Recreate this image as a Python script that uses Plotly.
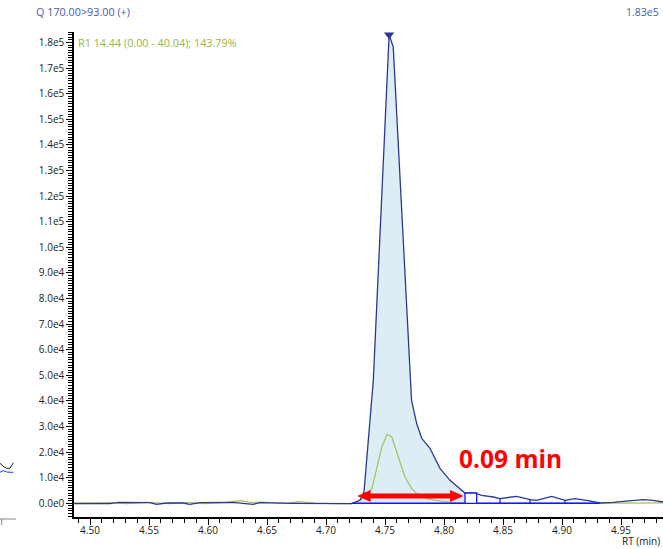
import numpy as np
import plotly.graph_objects as go

# ---- Chromatogram data: retention time (min) vs. intensity ----
# Quantifier transition Q 170.00 > 93.00 (+)
rt_quant = [4.4865, 4.5169, 4.5240, 4.5508, 4.5565, 4.5650, 4.5788, 4.5847, 4.5932,
            4.6212, 4.6381, 4.6441, 4.6720, 4.7218, 4.7288, 4.7322, 4.7401, 4.7535,
            4.7570, 4.7725, 4.7768, 4.7811, 4.7881, 4.7966, 4.8051, 4.8136, 4.8178,
            4.8277, 4.8319, 4.8418, 4.8475, 4.8616, 4.8729, 4.8785, 4.8913, 4.9025,
            4.9110, 4.9209, 4.9322, 4.9432, 4.9686, 4.9771, 4.9856]
int_quant = [-100, -100, 390, 270, -390, 117, 117, -390, 270,
             390, -390, 270, 0, -117, 1172, 4414, 48047, 183000,
             178200, 40230, 31250, 25390, 21480, 13670, 8980, 5740, 4020,
             3790, 3125, 2460, 1840, 2730, 1450, 1170, 2730, 1170,
             1840, 1170, 120, 390, 1450, 1170, 500]

# Qualifier (reference ion) trace
rt_qual = [4.4865, 4.5169, 4.5310, 4.5480, 4.5678, 4.5820, 4.5958, 4.6158, 4.6271,
           4.6370, 4.6441, 4.6553, 4.6667, 4.6765, 4.6836, 4.6907, 4.7050, 4.7218,
           4.7316, 4.7390, 4.7472, 4.7519, 4.7557, 4.7613, 4.7669, 4.7726, 4.7768,
           4.7853, 4.7966, 4.8100, 4.8300, 4.8600, 4.9000, 4.9300, 4.9550, 4.9856]
int_qual = [200, 270, -100, 390, -100, 390, -100, 390, 1050,
            270, 500, 117, 0, 660, 270, 117, -100, -100,
            1840, 5860, 21880, 26950, 25900, 18090, 10270, 5740, 3790,
            1840, 900, 200, 0, 100, 0, 200, 100, 150]

# Integration window of the main peak and split markers
peak_start, peak_end = 4.7218, 4.8178
split_box = (4.8178, 4.8277)
split_lines = [4.8475, 4.8729, 4.9025]
baseline_end = 4.9322
apex_rt, apex_int = 4.7535, 183000

# Peak width annotation
width_start = 4.7265
width_min = 0.09

# Axis ticks
y_tickvals = [i * 1e4 for i in range(19)]
y_ticktext = ["0.0e0"] + [f"{i}.0e4" for i in range(1, 10)] + \
             ["1.0e5", "1.1e5", "1.2e5", "1.3e5", "1.4e5", "1.5e5", "1.6e5", "1.7e5", "1.8e5"]
x_tickvals = [4.50, 4.55, 4.60, 4.65, 4.70, 4.75, 4.80, 4.85, 4.90, 4.95]
x_ticktext = [f"{v:.2f}" for v in x_tickvals]

NAVY = "#2b3990"
FILL = "#dcedf5"
GREEN = "#a8c060"
BRIGHT = "#1414ff"
FONT = "Open Sans"

W, H = 663, 549
ML, MR, MT, MB = 74, 0, 32, 32
PW, PH = W - ML - MR, H - MT - MB
X_RANGE = [4.48644, 4.98559]
Y_RANGE = [-5350, 184100]


def px(xp):
    return (xp - ML) / PW


def py(yp):
    return (H - MB - yp) / PH


rq = np.array(rt_quant)
iq = np.array(int_quant)

fig = go.Figure()

# shaded integrated area of the main peak
mask = (rq >= peak_start) & (rq <= peak_end)
fig.add_trace(go.Scatter(x=rq[mask], y=iq[mask], mode="lines", line=dict(width=0),
                         fill="tozeroy", fillcolor=FILL, hoverinfo="skip"))

# qualifier trace
fig.add_trace(go.Scatter(x=rt_qual, y=int_qual, mode="lines",
                         line=dict(color=GREEN, width=1.2)))

# integration baseline
fig.add_trace(go.Scatter(x=[peak_start, baseline_end], y=[0, 0], mode="lines",
                         line=dict(color=BRIGHT, width=1.5)))

# quantifier trace
fig.add_trace(go.Scatter(x=rt_quant, y=int_quant, mode="lines",
                         line=dict(color=NAVY, width=1.3)))

# apex marker
fig.add_trace(go.Scatter(x=[apex_rt], y=[apex_int], mode="markers",
                         marker=dict(symbol="triangle-down", size=9, color=NAVY),
                         cliponaxis=False))

shapes = []
# split box after the main peak
box_top = float(np.interp(split_box[0], rq, iq))
shapes.append(dict(type="rect", xref="x", yref="y", x0=split_box[0], x1=split_box[1],
                   y0=0, y1=box_top, fillcolor="white", line=dict(color=BRIGHT, width=1.3)))
for t in split_lines:
    shapes.append(dict(type="line", xref="x", yref="y", x0=t, x1=t, y0=0,
                       y1=float(np.interp(t, rq, iq)), line=dict(color=BRIGHT, width=1.3)))

# double-headed red arrow spanning the peak width
x0a, x1a = width_start, width_start + width_min
yc = 2850
head_len = 0.0113
head_half = 2350
shaft_half = 950
arrow_path = (f"M {x0a},{yc} L {x0a + head_len},{yc + head_half} L {x0a + head_len},{yc + shaft_half} "
              f"L {x1a - head_len},{yc + shaft_half} L {x1a - head_len},{yc + head_half} L {x1a},{yc} "
              f"L {x1a - head_len},{yc - head_half} L {x1a - head_len},{yc - shaft_half} "
              f"L {x0a + head_len},{yc - shaft_half} L {x0a + head_len},{yc - head_half} Z")
shapes.append(dict(type="path", xref="x", yref="y", path=arrow_path,
                   fillcolor="#ff0000", line=dict(width=0)))

# edge of the neighbouring panel
def ppath(points):
    return "M " + " L ".join(f"{px(a)},{py(b)}" for a, b in points)

shapes.append(dict(type="path", xref="paper", yref="paper",
                   path=ppath([(0, 463.3), (3.5, 466.5), (6.7, 468.3), (10, 468.3), (13.3, 462.7)]),
                   line=dict(color="#222222", width=1)))
shapes.append(dict(type="path", xref="paper", yref="paper",
                   path=ppath([(0, 472.3), (3.3, 470.7), (6.7, 472.0), (10, 472.3), (13.3, 472.3)]),
                   line=dict(color="#2040ff", width=1)))
shapes.append(dict(type="path", xref="paper", yref="paper",
                   path=ppath([(0, 519), (16, 519)]), line=dict(color="#888888", width=1)))
shapes.append(dict(type="path", xref="paper", yref="paper",
                   path=ppath([(1.7, 519), (1.7, 525)]), line=dict(color="#888888", width=1)))

annotations = [
    dict(text="Q 170.00>93.00 (+)", x=px(34), y=py(12), xref="paper", yref="paper",
         xanchor="left", yanchor="middle", showarrow=False,
         font=dict(family=FONT, size=10.8, color="#4b5ba6")),
    dict(text="1.83e5", x=px(661), y=py(12), xref="paper", yref="paper",
         xanchor="right", yanchor="middle", showarrow=False,
         font=dict(family=FONT, size=10.5, color="#4b5ba6")),
    dict(text="R1 14.44 (0.00 - 40.04); 143.79%", x=px(76), y=py(42), xref="paper", yref="paper",
         xanchor="left", yanchor="middle", showarrow=False,
         font=dict(family=FONT, size=10.8, color="#9bb53c")),
    dict(text="RT (min)", x=px(661), y=py(548.5), xref="paper", yref="paper",
         xanchor="right", yanchor="bottom", showarrow=False, borderpad=0,
         font=dict(family=FONT, size=10, color="#222222")),
    dict(text=f"<b>{width_min:.2f} min</b>", x=px(457), y=py(458), xref="paper", yref="paper",
         xanchor="left", yanchor="middle", showarrow=False,
         font=dict(family=FONT, size=24.5, color="#ff0000")),
]

fig.update_layout(
    width=W, height=H,
    margin=dict(l=ML, r=MR, t=MT, b=MB, pad=0),
    paper_bgcolor="white", plot_bgcolor="white",
    showlegend=False,
    shapes=shapes,
    annotations=annotations,
    xaxis=dict(range=X_RANGE, showgrid=False, zeroline=False,
               showline=True, linecolor="black", linewidth=1.5,
               tickmode="array", tickvals=x_tickvals, ticktext=x_ticktext,
               ticks="outside", ticklen=6, tickwidth=1, tickcolor="black",
               ticklabelstandoff=-3,
               tickfont=dict(family=FONT, size=10, color="#222222"),
               minor=dict(dtick=0.01, tick0=4.5, ticks="outside", ticklen=4,
                          tickwidth=1, tickcolor="black", showgrid=False)),
    yaxis=dict(range=Y_RANGE, showgrid=False, zeroline=False,
               showline=True, linecolor="black", linewidth=1.5,
               tickmode="array", tickvals=y_tickvals, ticktext=y_ticktext,
               ticks="outside", ticklen=6, tickwidth=1, tickcolor="black",
               tickfont=dict(family=FONT, size=10, color="#222222"),
               minor=dict(dtick=1000, tick0=0, ticks="outside", ticklen=4,
                          tickwidth=1, tickcolor="black", showgrid=False)),
)

fig.write_html("out.html")
